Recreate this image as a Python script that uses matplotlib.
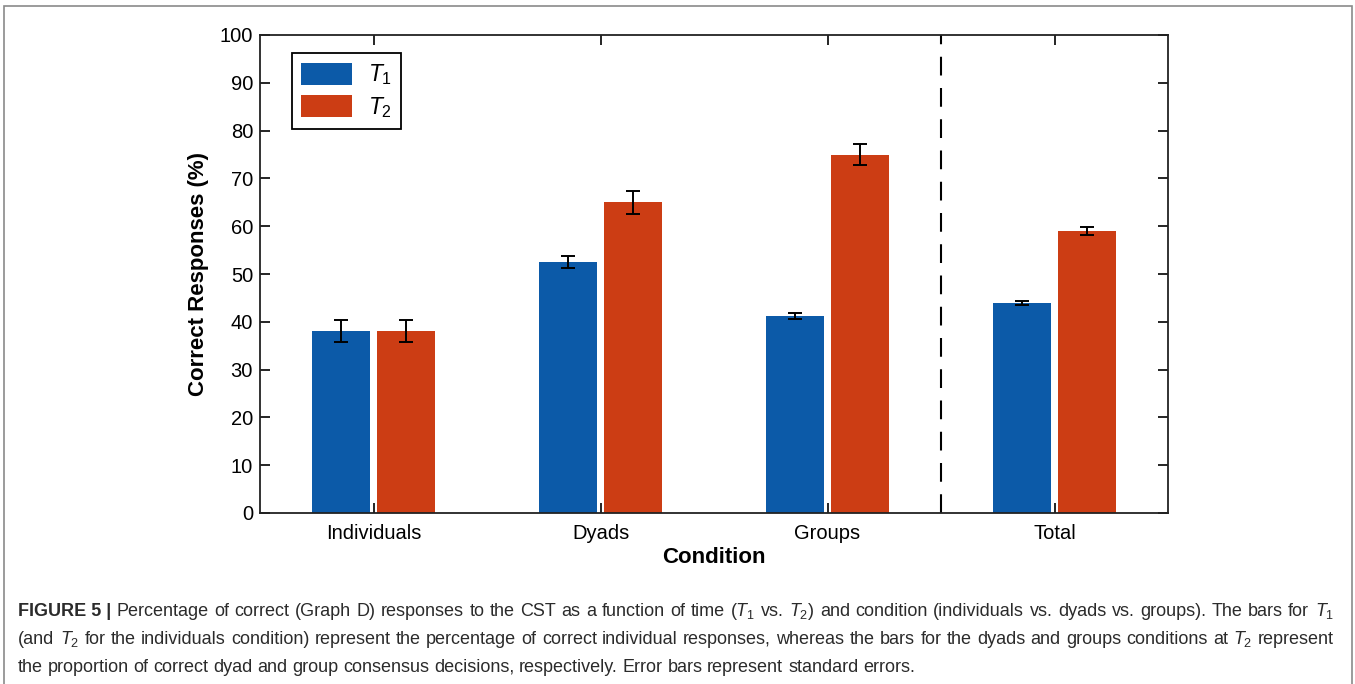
import numpy as np
import matplotlib
matplotlib.use("Agg")
import matplotlib.pyplot as plt
from matplotlib.patches import Rectangle

plt.rcParams['font.family'] = ['Liberation Sans', 'DejaVu Sans']
plt.rcParams['mathtext.fontset'] = 'custom'
plt.rcParams['mathtext.rm'] = 'Liberation Sans'
plt.rcParams['mathtext.it'] = 'Liberation Sans:italic'
plt.rcParams['mathtext.bf'] = 'Liberation Sans:bold'

# data
conditions = ['Individuals', 'Dyads', 'Groups', 'Total']
t1_mean = [38.0, 52.5, 41.2, 44.0]
t1_se = [2.3, 1.3, 0.6, 0.4]
t2_mean = [38.0, 65.0, 75.0, 59.0]
t2_se = [2.3, 2.4, 2.2, 0.9]
yticks = [0, 10, 20, 30, 40, 50, 60, 70, 80, 90, 100]

blue = '#0c5aa8'
red = '#cc3d14'

W, H = 1355, 684
fig = plt.figure(figsize=(W / 100, H / 100), dpi=100)
ax = fig.add_axes([260 / W, 1 - 513 / H, 908 / W, 478 / H])

x = np.arange(1, len(conditions) + 1)
off = 0.143
bw = 0.258
ekw = dict(ecolor='black', elinewidth=1.4, capthick=1.4, capsize=4.8)
ax.bar(x - off, t1_mean, bw, yerr=t1_se, color=blue, label='$T_1$', error_kw=ekw)
ax.bar(x + off, t2_mean, bw, yerr=t2_se, color=red, label='$T_2$', error_kw=ekw)

ax.axvline(3.5, color='black', lw=1.5, linestyle=(0, (9, 6)))

ax.set_xlim(0.5, 4.5)
ax.set_ylim(0, 100)
ax.set_xticks(x)
ax.set_xticklabels(conditions)
ax.set_yticks(yticks)
ax.tick_params(direction='in', length=7, width=1.2, labelsize=14.5,
               top=True, right=True, colors='black')
ax.tick_params(axis='y', pad=5)
ax.tick_params(axis='x', pad=8)
for s in ax.spines.values():
    s.set_linewidth(1.3)
    s.set_color('#222222')

ax.set_ylabel('Correct Responses (%)', fontsize=16, fontweight='bold', labelpad=8)
ax.set_xlabel('Condition', fontsize=16, fontweight='bold', labelpad=3)

leg = ax.legend(loc='upper left', bbox_to_anchor=(0.0352, 0.962), borderaxespad=0,
                fontsize=16.5, fancybox=False, edgecolor='black', framealpha=1,
                handlelength=2.2, handleheight=1.1, borderpad=0.4,
                labelspacing=0.34, handletextpad=0.7)
leg.get_frame().set_linewidth(1.3)

# outer frame around figure and caption
fig.patches.append(Rectangle((4 / W, -0.05), 1348 / W, 1.05 - 6 / H,
                             transform=fig.transFigure, fill=False,
                             edgecolor='#8a8a8a', lw=1.2, clip_on=False))

# caption, fully justified
cap_lines = [
    [('FIGURE 5 |', 'bold')] + [(w, 'normal') for w in
     'Percentage of correct (Graph D) responses to the CST as a function of time ($T_1$ vs. $T_2$) and condition (individuals vs. dyads vs. groups). The bars for $T_1$'.split(' ')],
    [(w, 'normal') for w in
     '(and $T_2$ for the individuals condition) represent the percentage of correct individual responses, whereas the bars for the dyads and groups conditions at $T_2$ represent'.split(' ')],
    [(w, 'normal') for w in
     'the proportion of correct dyad and group consensus decisions, respectively. Error bars represent standard errors.'.split(' ')],
]
baselines = [616, 644, 672]
x0, x1 = 18, 1334
renderer = fig.canvas.get_renderer()
cap_size = 13
for i, (toks, yb) in enumerate(zip(cap_lines, baselines)):
    texts = [fig.text(0, 1 - yb / H, s, fontsize=cap_size, fontweight=wt,
                      color='#2b2b2b', va='baseline', ha='left') for s, wt in toks]
    widths = [t.get_window_extent(renderer).width for t in texts]
    if i < len(cap_lines) - 1:
        gap = (x1 - x0 - sum(widths)) / (len(texts) - 1)
    else:
        gap = 4.8
    xp = x0
    for t, w in zip(texts, widths):
        t.set_x(xp / W)
        xp += w + gap

fig.savefig('out.png', dpi=100)
